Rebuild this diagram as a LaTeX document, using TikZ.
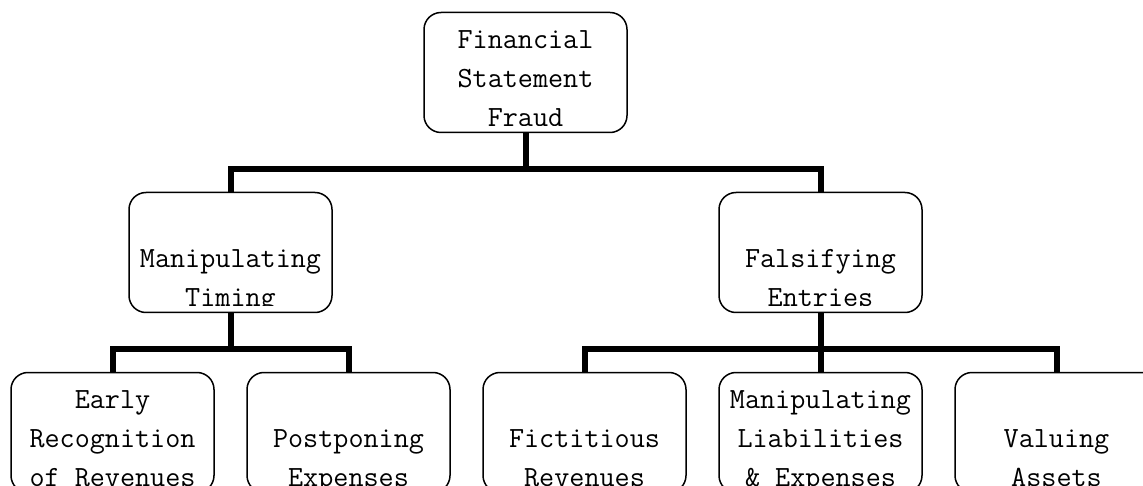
\documentclass[tikz,border=0pt]{standalone}

\newcommand{\boxfont}{\fontsize{29.3}{39}\selectfont\ttfamily}
\newcommand{\boxlines}[1]{\begin{tabular}[b]{@{}c@{}}#1\end{tabular}}

\tikzset{
  box/.style={draw, line width=1.5pt, rounded corners=17pt,
    minimum width=203pt, minimum height=120pt, inner sep=0pt,
    path picture={
      \clip[sharp corners] ([yshift=7pt]path picture bounding box.south west)
        rectangle (path picture bounding box.north east);
      \node[draw=none, inner sep=0pt, minimum width=0pt, minimum height=0pt,
        anchor=base, font=\boxfont] at ([yshift=6pt]path picture bounding box.south)
        {\boxlines{#1}};
    }},
}

\begin{document}
\begin{tikzpicture}[x=1pt, y=1pt,
level distance=180pt,
level 1/.style={sibling distance=590pt},
level 2/.style={sibling distance=236pt},
edge from parent/.style={draw, line width=6pt},
edge from parent path={(\tikzparentnode.south) -- ++(0,-35.5) -| (\tikzchildnode.north)}]
\useasboundingbox (0,0) rectangle (1143,-486);
\node[box={Financial\\Statement\\Fraud}] (fsf) at (525.5,-72.5) {}
	child {node[box={Manipulating\\Timing}] (mtm) {}
		child {node[box={Early\\Recognition\\of Revenues}] (erv) {}}
		child {node[box={Postponing\\Expenses}] (pex) {}}
	}
	child {node[box={Falsifying\\Entries}] (fen) {}
		child {node[box={Fictitious\\Revenues}] (frv) {}}
		child {node[box={Manipulating\\Liabilities\\\& Expenses}] (mle) {}}
		child {node[box={Valuing\\Assets}] (vas) {}}
	};
\end{tikzpicture}
\end{document}
